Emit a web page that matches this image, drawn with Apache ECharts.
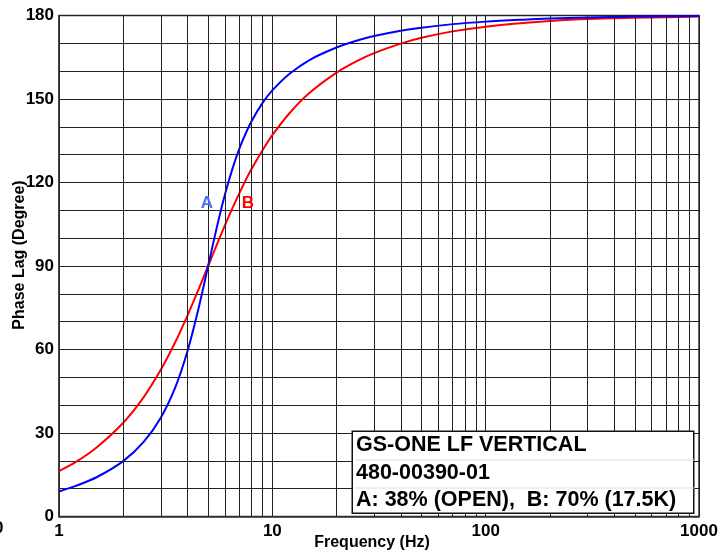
<!DOCTYPE html>
<html>
<head>
<meta charset="utf-8">
<script src="https://cdn.jsdelivr.net/npm/echarts@6/dist/echarts.min.js"></script>
<style>
html,body{margin:0;padding:0;background:#fff;}
#chart{width:727px;height:552px;}
</style>
</head>
<body>
<div id="chart"></div>
<script>
// Frequencies (Hz)
var freqs = [1, 1.2, 1.5, 2, 2.5, 3, 3.5, 4, 4.5, 5, 5.5, 6, 6.5, 7, 7.5, 8, 9, 10, 12, 15, 20, 25, 30, 40, 50, 70, 100, 150, 200, 300, 500, 700, 1000];
// Curve A: 38% (OPEN)
var phaseA = [9.0, 11.0, 14.1, 19.9, 26.9, 35.5, 46.2, 59.4, 74.5, 90.0, 104.1, 115.8, 124.9, 132.1, 137.6, 142.1, 148.6, 153.1, 159.0, 164.1, 168.5, 171.0, 172.6, 174.5, 175.6, 176.9, 177.8, 178.5, 178.9, 179.3, 179.6, 179.7, 179.8];
// Curve B: 70% (17.5K)
var phaseB = [16.3, 19.6, 24.8, 33.7, 43.0, 52.7, 62.5, 72.2, 81.4, 90.0, 97.8, 104.7, 110.8, 116.1, 120.8, 124.9, 131.6, 137.0, 144.8, 152.3, 159.5, 163.7, 166.5, 169.9, 172.0, 174.3, 176.0, 177.3, 178.0, 178.7, 179.2, 179.4, 179.6];
// Minor vertical grid positions (Hz)
var minorFreqs = [2,3,4,5,6,7,8,9,20,30,40,50,60,70,80,90,200,300,400,500,600,700,800,900];
// Curve labels [frequency, degree]
var labelA = [4.93, 112.6];
var labelB = [7.69, 112.6];
// Legend box text
var boxLines = ['GS-ONE LF VERTICAL', '480-00390-01', 'A: 38% (OPEN),  B: 70% (17.5K)'];

function pairs(xs, ys){ return xs.map(function(x,i){ return [x, ys[i]]; }); }

var chart = echarts.init(document.getElementById('chart'));
var FONT = 'Liberation Sans, Arial, sans-serif';
var gridColor = '#222';

var option = {
  animation: false,
  backgroundColor: '#fff',
  grid: { left: 59, right: 28, top: 15.5, bottom: 35.5, show: true, borderColor: '#333', borderWidth: 1.5, containLabel: false, outerBoundsMode: 'none' },
  xAxis: {
    type: 'log', logBase: 10, min: 1, max: 1000,
    name: 'Frequency (Hz)', nameLocation: 'middle', nameGap: 18, nameMoveOverlap: false,
    nameTextStyle: { fontFamily: FONT, fontWeight: 'bold', fontSize: 16, color: '#000', padding: [0, 14, 0, 0] },
    axisLine: { show: true, lineStyle: { color: '#333', width: 1.5 } },
    axisTick: { show: false },
    axisLabel: { fontFamily: FONT, fontWeight: 'bold', fontSize: 17, color: '#000', margin: 6,
      formatter: function(v){ return String(Math.round(v)); } },
    splitLine: { show: true, lineStyle: { color: gridColor, width: 1 } }
  },
  yAxis: {
    type: 'value', min: 0, max: 180, interval: 10,
    name: 'Phase Lag (Degree)', nameLocation: 'middle', nameGap: 31, nameMoveOverlap: false,
    nameTextStyle: { fontFamily: FONT, fontWeight: 'bold', fontSize: 16, color: '#000', padding: [0, 0, 0, 22] },
    axisLine: { show: true, lineStyle: { color: '#333', width: 1.5 } },
    axisTick: { show: false },
    axisLabel: {
      fontFamily: FONT, fontWeight: 'bold', fontSize: 17, color: '#000', margin: 5,
      formatter: function(v){ return (v % 30 === 0) ? String(v) : ''; }
    },
    splitLine: { show: true, lineStyle: { color: gridColor, width: 1 } }
  },
  series: [
    {
      type: 'line', data: [], silent: true, z: 1,
      markLine: {
        silent: true, symbol: ['none', 'none'], animation: false,
        label: { show: false },
        lineStyle: { color: gridColor, width: 1, type: 'solid' },
        emphasis: { disabled: true },
        data: minorFreqs.map(function(f){ return { xAxis: f }; })
      }
    },
    {
      name: 'A', type: 'line', smooth: 0.3, showSymbol: false, z: 4,
      lineStyle: { color: '#0000ff', width: 2 },
      data: pairs(freqs, phaseA),
      markPoint: {
        symbol: 'circle', symbolSize: 0, silent: true,
        label: { show: true, formatter: 'A', color: '#4d6ef5', fontFamily: FONT, fontWeight: 'bold', fontSize: 17, position: 'inside' },
        data: [{ coord: labelA }]
      }
    },
    {
      name: 'B', type: 'line', smooth: 0.3, showSymbol: false, z: 3,
      lineStyle: { color: '#ff0000', width: 2 },
      data: pairs(freqs, phaseB),
      markPoint: {
        symbol: 'circle', symbolSize: 0, silent: true,
        label: { show: true, formatter: 'B', color: '#ff0000', fontFamily: FONT, fontWeight: 'bold', fontSize: 17, position: 'inside' },
        data: [{ coord: labelB }]
      }
    }
  ],
  graphic: [
    { type: 'text', left: -6, top: 520, z: 100, style: { text: '0', font: 'bold 17px ' + FONT, fill: '#000' } },
    { type: 'rect', left: 351.5, top: 430.5, z: 100, shape: { x: 0, y: 0, width: 341.5, height: 82 }, style: { fill: '#fff', stroke: '#111', lineWidth: 1.5 } },
    { type: 'line', left: 352.5, top: 457.5, z: 101, shape: { x1: 0, y1: 0, x2: 339.5, y2: 0 }, style: { stroke: '#ddd', lineWidth: 1 } },
    { type: 'line', left: 352.5, top: 485.5, z: 101, shape: { x1: 0, y1: 0, x2: 339.5, y2: 0 }, style: { stroke: '#ddd', lineWidth: 1 } },
    { type: 'text', left: 356, top: 434, z: 102, style: { text: boxLines[0], font: 'bold 21.5px ' + FONT, fill: '#000' } },
    { type: 'text', left: 356, top: 462, z: 102, style: { text: boxLines[1], font: 'bold 21.5px ' + FONT, fill: '#000' } },
    { type: 'text', left: 356, top: 489.5, z: 102, style: { text: boxLines[2], font: 'bold 21.5px ' + FONT, fill: '#000' } }
  ]
};
chart.setOption(option);
</script>
</body>
</html>
